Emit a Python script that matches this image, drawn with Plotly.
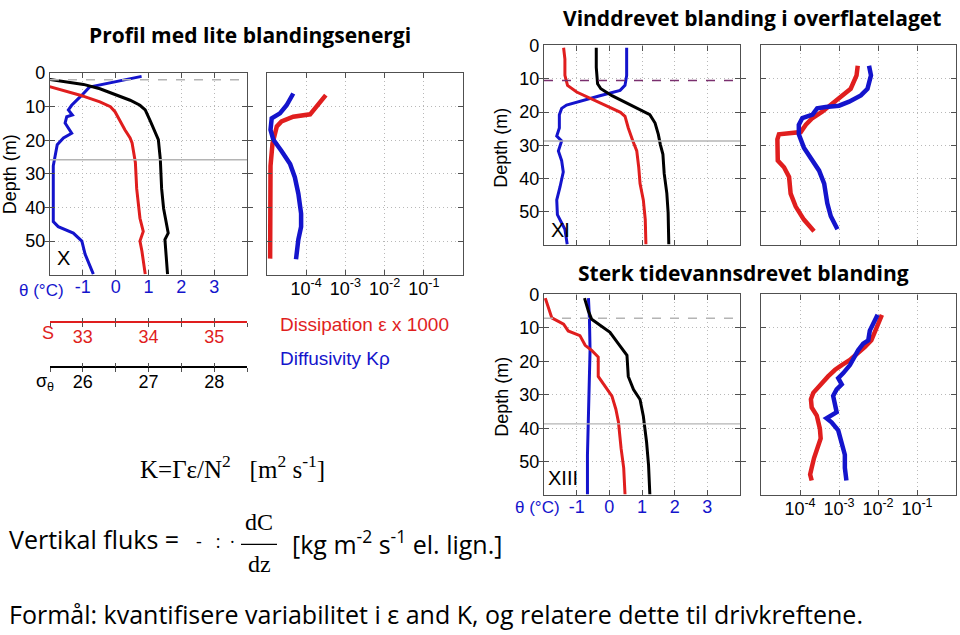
import numpy as np
import plotly.graph_objects as go

# ---------------- data ----------------
# Profile X  (low mixing energy)
theta_X_depth = [1.0, 4.2, 6.6, 9.6, 11.0, 12.5, 13.0, 14.9, 17.9, 19.3, 21.3, 25.7, 27.6, 44.2, 45.7, 47.6, 50.0, 53.9, 59.8]
theta_X = [0.79, -0.80, -1.03, -1.34, -1.44, -1.32, -1.49, -1.54, -1.34, -1.59, -1.78, -1.85, -1.90, -1.90, -1.75, -1.29, -1.03, -0.93, -0.68]
sal_X_depth = [3.8, 6.6, 8.6, 10.0, 11.5, 14.4, 16.9, 19.3, 20.8, 26.6, 34.4, 43.2, 47.1, 50.0, 53.0, 59.8]
sal_X = [32.45, 32.96, 33.26, 33.42, 33.49, 33.57, 33.64, 33.72, 33.75, 33.80, 33.82, 33.87, 33.92, 33.87, 33.90, 33.95]
sig_X_depth = [1.8, 3.4, 4.7, 6.6, 8.1, 9.6, 11.0, 14.4, 17.4, 19.8, 25.7, 34.4, 40.3, 45.2, 47.6, 49.5, 54.9, 59.8]
sig_X = [25.45, 26.01, 26.26, 26.52, 26.72, 26.87, 26.95, 27.03, 27.10, 27.15, 27.18, 27.20, 27.23, 27.27, 27.30, 27.25, 27.27, 27.29]
eps_X_depth = [6.6, 9.6, 12.3, 13.0, 14.4, 15.9, 17.9, 21.0, 27.6, 55.2]
eps_X_log10 = [-3.50, -3.73, -3.90, -4.33, -4.63, -4.75, -4.80, -4.86, -4.91, -4.92]
K_X_depth = [6.1, 9.6, 12.0, 13.5, 16.9, 19.8, 23.2, 27.1, 31.0, 35.9, 41.8, 45.7, 49.5, 55.4]
K_X_log10 = [-4.33, -4.50, -4.67, -4.88, -4.91, -4.84, -4.63, -4.41, -4.29, -4.20, -4.13, -4.13, -4.20, -4.26]

# Profile XI (wind-driven mixing in the surface layer)
theta_XI_depth = [0.7, 9.0, 12.0, 13.5, 15.1, 16.4, 17.9, 18.9, 20.8, 24.8, 27.2, 28.7, 31.7, 34.6, 38.0, 42.5, 46.4, 50.8, 53.3, 55.2, 59.7]
theta_XI = [0.53, 0.53, 0.48, 0.33, -0.29, -0.80, -1.31, -1.46, -1.53, -1.53, -1.61, -1.46, -1.56, -1.46, -1.41, -1.51, -1.61, -1.59, -1.46, -1.36, -1.29]
sal_XI_depth = [0.7, 4.1, 9.0, 12.0, 14.0, 15.9, 18.4, 20.1, 21.3, 24.8, 28.7, 31.7, 36.6, 41.5, 46.4, 52.3, 59.7]
sal_XI = [32.80, 32.82, 32.82, 32.86, 33.00, 33.21, 33.46, 33.67, 33.74, 33.79, 33.86, 33.92, 33.95, 33.97, 34.02, 34.05, 34.06]
sig_XI_depth = [0.7, 6.6, 11.5, 13.0, 15.1, 16.9, 19.4, 20.8, 23.3, 26.7, 29.7, 32.7, 38.5, 44.4, 50.2, 59.7]
sig_XI = [26.30, 26.30, 26.32, 26.37, 26.54, 26.72, 26.97, 27.12, 27.20, 27.25, 27.28, 27.32, 27.34, 27.38, 27.40, 27.41]
eps_XI_depth = [6.1, 9.0, 13.0, 15.9, 18.4, 19.9, 21.8, 23.8, 26.0, 26.7, 28.2, 34.6, 36.6, 39.5, 44.5, 48.4, 52.3, 55.8]
eps_XI_log10 = [-2.52, -2.55, -2.70, -3.00, -3.25, -3.43, -3.68, -3.85, -3.98, -4.54, -4.58, -4.57, -4.41, -4.28, -4.24, -4.11, -3.90, -3.64]
K_XI_depth = [6.1, 9.0, 13.0, 15.0, 16.9, 18.1, 18.5, 18.9, 20.8, 21.8, 23.8, 26.7, 30.7, 34.6, 37.6, 41.5, 47.4, 51.3, 55.2]
K_XI_log10 = [-2.23, -2.18, -2.27, -2.44, -2.74, -3.00, -3.34, -3.56, -3.68, -3.94, -4.03, -4.03, -3.90, -3.68, -3.51, -3.38, -3.30, -3.21, -3.04]

# Profile XIII (strong tidally driven mixing)
theta_XIII_depth = [1.1, 6.9, 16.6, 24.0, 36.5, 48.0, 59.7]
theta_XIII = [-0.64, -0.61, -0.59, -0.61, -0.64, -0.67, -0.67]
sal_XIII_depth = [1.1, 4.0, 7.0, 8.9, 10.9, 12.3, 15.2, 16.7, 18.7, 24.5, 27.5, 30.4, 34.3, 38.2, 46.0, 51.9, 59.7]
sal_XIII = [32.52, 32.57, 32.62, 32.80, 32.87, 33.05, 33.13, 33.23, 33.33, 33.33, 33.44, 33.54, 33.60, 33.64, 33.68, 33.72, 33.74]
sig_XIII_depth = [1.1, 5.0, 7.4, 9.4, 11.3, 14.8, 18.2, 24.5, 28.4, 31.4, 36.3, 44.1, 50.9, 59.7]
sig_XIII = [26.12, 26.18, 26.23, 26.38, 26.51, 26.64, 26.77, 26.79, 26.87, 26.97, 27.02, 27.07, 27.10, 27.12]
eps_XIII_depth = [6.1, 8.8, 11.8, 13.7, 15.7, 17.6, 19.6, 21.1, 22.5, 24.5, 26.9, 29.4, 31.3, 33.8, 36.2, 40.1, 43.0, 46.0, 48.9, 51.8, 53.8, 55.6]
eps_XIII_log10 = [-1.90, -2.00, -2.08, -2.17, -2.34, -2.51, -2.72, -2.93, -3.10, -3.28, -3.45, -3.66, -3.72, -3.70, -3.57, -3.49, -3.47, -3.57, -3.64, -3.70, -3.74, -3.70]
K_XIII_depth = [6.1, 8.8, 10.8, 13.7, 14.7, 16.7, 18.6, 21.1, 23.5, 25.0, 26.9, 28.4, 30.3, 32.8, 35.2, 37.0, 38.2, 40.6, 44.0, 47.9, 51.8, 55.6]
K_XIII_log10 = [-2.01, -2.13, -2.21, -2.25, -2.38, -2.51, -2.59, -2.72, -2.89, -3.02, -2.93, -3.06, -3.15, -3.10, -3.06, -3.32, -3.19, -3.02, -2.93, -2.85, -2.85, -2.81]

# reference depths (dashed: mixed layer, solid: lower marker)
dashed_depth = {"X": 2.0, "XI": 10.5, "XIII": 7.1}
solid_depth = {"X": 25.8, "XI": 28.7, "XIII": 38.7}

# axis ticks
depth_ticks = [0, 10, 20, 30, 40, 50]
theta_ticks = [-1, 0, 1, 2, 3]
theta_labels = ["-1", "0", "1", "2", "3"]
sal_ticks = [32.5, 33, 33.5, 34, 34.5, 35, 35.5]
sal_labels = ["", "33", "", "34", "", "35", ""]
sig_ticks = [25.5, 26, 26.5, 27, 27.5, 28, 28.5]
sig_labels = ["", "26", "", "27", "", "28", ""]
log_ticks = [1e-4, 1e-3, 1e-2, 1e-1]
log_labels = ["10<sup>-4</sup>", "10<sup>-3</sup>", "10<sup>-2</sup>", "10<sup>-1</sup>"]

# ---------------- styling ----------------
W, H = 960, 635
BLUE = "#1414cc"
RED = "#e01e1e"
BLACK = "#000000"
FRAME = "#505050"
SANS = "Liberation Sans"
BODY = "Open Sans"
SERIF = "Liberation Serif"


def PX(x):
    return x / W


def PY(y):
    return 1 - y / H


panels = {
    # name: (x0, x1, ytop, ybottom) in pixels
    "A": (50, 247, 64, 269),
    "B": (267, 463, 64, 269),
    "C": (544, 740, 36, 239),
    "D": (761, 956, 36, 239),
    "E": (544, 740, 289, 493),
    "F": (761, 956, 289, 493),
}

fig = go.Figure()
layout = dict(width=W, height=H, margin=dict(l=0, r=0, t=0, b=0),
              paper_bgcolor="white", plot_bgcolor="white", showlegend=False,
              font=dict(family=SANS, size=18, color="black"))

frame = dict(showline=True, linecolor=FRAME, linewidth=1.4, mirror="allticks",
             ticks="inside", ticklen=5, tickcolor=FRAME, showgrid=True,
             gridcolor="#b8b8b8", griddash="1px,3px", gridwidth=1, zeroline=False)

names = ["A", "B", "C", "D", "E", "F"]
for i, n in enumerate(names, start=1):
    x0, x1, yt, yb = panels[n]
    sx = "" if i == 1 else str(i)
    xa = dict(frame, domain=[PX(x0), PX(x1)], anchor="y" + sx)
    ya = dict(frame, domain=[PY(yb), PY(yt)], anchor="x" + sx, range=[60, 0],
              tickvals=depth_ticks, ticklabelstandoff=0,
              tickfont=dict(family=SANS, size=18, color="black"))
    if n in ("A", "C", "E"):
        xa.update(range=[-2, 4], tickvals=theta_ticks, ticktext=theta_labels,
                  showticklabels=(n != "C"), ticklabelstandoff=-5,
                  tickfont=dict(family=SANS, size=18, color=BLUE))
    else:
        xa.update(type="log", range=[-5, 0], tickvals=log_ticks, ticktext=log_labels,
                  showticklabels=(n != "D"), ticklabelstandoff=-3,
                  tickfont=dict(family=SANS, size=18, color="black"))
        ya.update(showticklabels=False)
    layout["xaxis" + sx] = xa
    layout["yaxis" + sx] = ya

# salinity / sigma axes (free, below panel A; hidden overlays for C and E)
layout["xaxis7"] = dict(overlaying="x", anchor="free", position=PY(316.5), range=[32.5, 35.5],
                        showline=True, linecolor=RED, linewidth=2, ticks="outside", ticklen=4,
                        tickcolor=FRAME, tickwidth=1.3, tickvals=sal_ticks, ticktext=sal_labels,
                        tickfont=dict(family=SANS, size=18, color=RED), showgrid=False, zeroline=False,
                        ticklabelstandoff=-5)
layout["xaxis8"] = dict(overlaying="x", anchor="free", position=PY(316.5), range=[32.5, 35.5],
                        showline=False, ticks="inside", ticklen=4, tickcolor=FRAME, tickwidth=1.3,
                        tickvals=sal_ticks, showticklabels=False, showgrid=False, zeroline=False)
layout["xaxis9"] = dict(overlaying="x", anchor="free", position=PY(362.5), range=[25.5, 28.5],
                        showline=True, linecolor=BLACK, linewidth=2, ticks="outside", ticklen=4,
                        tickcolor=FRAME, tickwidth=1.3, tickvals=sig_ticks, ticktext=sig_labels,
                        tickfont=dict(family=SANS, size=18, color=BLACK), showgrid=False, zeroline=False,
                        ticklabelstandoff=-5)
layout["xaxis10"] = dict(overlaying="x", anchor="free", position=PY(362.5), range=[25.5, 28.5],
                         showline=False, ticks="inside", ticklen=4, tickcolor=FRAME, tickwidth=1.3,
                         tickvals=sig_ticks, showticklabels=False, showgrid=False, zeroline=False)
for ax, over, rng in [("xaxis11", "x3", [32.5, 35.5]), ("xaxis12", "x3", [25.5, 28.5]),
                      ("xaxis13", "x5", [32.5, 35.5]), ("xaxis14", "x5", [25.5, 28.5])]:
    layout[ax] = dict(overlaying=over, anchor="y" + over[1:], range=rng, visible=False)


def line(x, y, color, xa, ya, width):
    fig.add_trace(go.Scatter(x=x, y=y, mode="lines", xaxis=xa, yaxis=ya,
                             line=dict(color=color, width=width), hoverinfo="skip"))


lw, lw2 = 3, 4.5
profiles = [
    ("X", "x", "y", "x7", "x9", "x2", "y2",
     theta_X_depth, theta_X, sal_X_depth, sal_X, sig_X_depth, sig_X,
     eps_X_depth, eps_X_log10, K_X_depth, K_X_log10),
    ("XI", "x3", "y3", "x11", "x12", "x4", "y4",
     theta_XI_depth, theta_XI, sal_XI_depth, sal_XI, sig_XI_depth, sig_XI,
     eps_XI_depth, eps_XI_log10, K_XI_depth, K_XI_log10),
    ("XIII", "x5", "y5", "x13", "x14", "x6", "y6",
     theta_XIII_depth, theta_XIII, sal_XIII_depth, sal_XIII, sig_XIII_depth, sig_XIII,
     eps_XIII_depth, eps_XIII_log10, K_XIII_depth, K_XIII_log10),
]
shapes = []
for (name, tx, ty, sx, gx, lx, ly, td, tv, sd, sv, gd, gv, ed, ev, kd, kv) in profiles:
    shapes.append(dict(type="line", xref=tx + " domain", yref=ty, x0=0, x1=1,
                       y0=dashed_depth[name], y1=dashed_depth[name],
                       line=dict(color="#7a2f6e" if name == "XI" else "#b4b4b4", width=1.5, dash="dash")))
    shapes.append(dict(type="line", xref=tx + " domain", yref=ty, x0=0, x1=1,
                       y0=solid_depth[name], y1=solid_depth[name],
                       line=dict(color="#b4b4b4", width=1.3)))
    line(tv, td, BLUE, tx, ty, lw)
    line(sv, sd, RED, sx, ty, lw)
    line(gv, gd, BLACK, gx, ty, lw)
    line(list(10 ** np.array(ev)), ed, RED, lx, ly, lw2)
    line(list(10 ** np.array(kv)), kd, BLUE, lx, ly, lw2)

# empty traces so the cross-tick helper axes are drawn
fig.add_trace(go.Scatter(x=[None], y=[None], xaxis="x8", yaxis="y", hoverinfo="skip"))
fig.add_trace(go.Scatter(x=[None], y=[None], xaxis="x10", yaxis="y", hoverinfo="skip"))

# fraction bar for dC/dz
shapes.append(dict(type="line", xref="paper", yref="paper", x0=PX(241), x1=PX(277),
                   y0=PY(543), y1=PY(543), line=dict(color="black", width=1.3)))
layout["shapes"] = shapes

ann = []


def text(x, y, s, size=18, color="black", family=SANS, xanchor="center", angle=0):
    ann.append(dict(x=PX(x), y=PY(y), xref="paper", yref="paper", text=s, showarrow=False,
                    xanchor=xanchor, yanchor="middle", textangle=angle,
                    font=dict(family=family, size=size, color=color)))


text(250, 25, "<b>Profil med lite blandingsenergi</b>", 21, family=BODY)
text(752, 8, "<b>Vinddrevet blanding i overflatelaget</b>", 21, family=BODY)
text(743, 267, "<b>Sterk tidevannsdrevet blanding</b>", 21, family=BODY)
text(10, 167, "Depth (m)", 18, angle=-90)
text(501, 140, "Depth (m)", 18, angle=-90)
text(502, 393, "Depth (m)", 18, angle=-90)
text(41, 285, "θ (°C)", 17, BLUE)
text(537, 505, "θ (°C)", 17, BLUE)
text(48, 328, "S", 18, RED)
text(45, 378, "σ<sub>θ</sub>", 18, BLACK)
text(278, 320, "Dissipation ε x 1000", 19, RED, xanchor="left")
text(278, 354, "Diffusivity Kρ", 19, BLUE, xanchor="left")
text(63, 252, "X", 20)
text(560, 224, "XI", 20)
text(563, 475, "XIII", 20)
text(138, 464, "K=Γε/N<sup>2</sup>\u00a0\u00a0\u00a0[m<sup>2</sup> s<sup>-1</sup>]", 25, family=SERIF, xanchor="left")
text(7, 537, "Vertikal fluks =", 25, family=BODY, xanchor="left")
text(194, 539, "-\u00a0\u00a0\u00a0:\u00a0\u00a0·", 18, family=BODY, xanchor="left")
text(259, 520, "dC", 24, family=SERIF)
text(259, 563, "dz", 24, family=SERIF)
text(290, 541, "[kg m<sup>-2</sup> s<sup>-1</sup> el. lign.]", 25, family=BODY, xanchor="left")
text(7, 614, "Formål: kvantifisere variabilitet i ε and K, og relatere dette til drivkreftene.", 25,
     family=BODY, xanchor="left")
layout["annotations"] = ann

fig.update_layout(**layout)

# pin the figure to the page corner (no body margin)
pin = ("document.body.style.margin='0';document.body.style.overflow='hidden';"
       "document.documentElement.style.overflow='hidden';"
       "var d=document.getElementById('{plot_id}');d.style.position='fixed';"
       "d.style.left='0px';d.style.top='0px';")
fig.write_html("out.html", post_script=pin, config={"displayModeBar": False})
